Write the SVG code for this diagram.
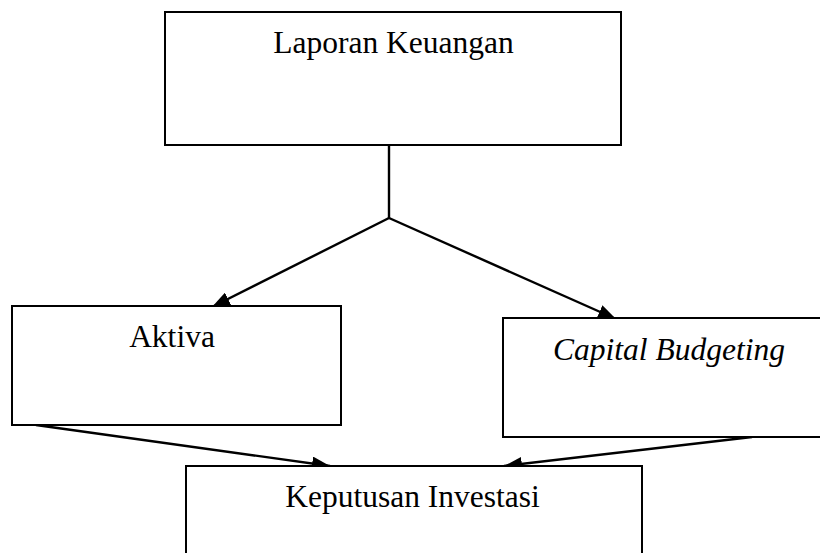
<svg xmlns="http://www.w3.org/2000/svg" width="820" height="553" viewBox="0 0 820 553">
<style>
.box{fill:#fff;stroke:#000;stroke-width:2}
.lbl{font-family:'Liberation Serif','Times New Roman',serif;font-size:31.5px;fill:#000;text-anchor:middle}
.it{font-style:italic}
.con{fill:none;stroke:#000;stroke-width:2.4}
</style>
<defs>
<marker id="arr" viewBox="0 0 18 14" refX="18" refY="7" markerWidth="18" markerHeight="14" markerUnits="userSpaceOnUse" orient="auto">
<path d="M0,0 L18,7 L0,14 Z" fill="#000"/>
</marker>
</defs>
<rect width="820" height="553" fill="#fff"/>
<g id="connectors">
<polyline class="con" points="389,145 389,218"/>
<line class="con" x1="389" y1="218" x2="212" y2="307" marker-end="url(#arr)"/>
<line class="con" x1="389" y1="218" x2="616" y2="319" marker-end="url(#arr)"/>
<line class="con" x1="36" y1="425" x2="330" y2="466" marker-end="url(#arr)"/>
<line class="con" x1="752" y1="437" x2="504" y2="466" marker-end="url(#arr)"/>
</g>
<g id="laporan">
<rect class="box" x="165" y="12" width="456" height="133"/>
<text class="lbl" x="393.5" y="53">Laporan Keuangan</text>
</g>
<g id="aktiva">
<rect class="box" x="12" y="306" width="329" height="119"/>
<text class="lbl" x="172" y="347">Aktiva</text>
</g>
<g id="capital">
<rect class="box" x="503" y="318" width="330" height="119"/>
<text class="lbl it" x="669" y="360">Capital Budgeting</text>
</g>
<g id="keputusan">
<rect class="box" x="186" y="466" width="456" height="100"/>
<text class="lbl" x="412.5" y="507">Keputusan Investasi</text>
</g>
</svg>
